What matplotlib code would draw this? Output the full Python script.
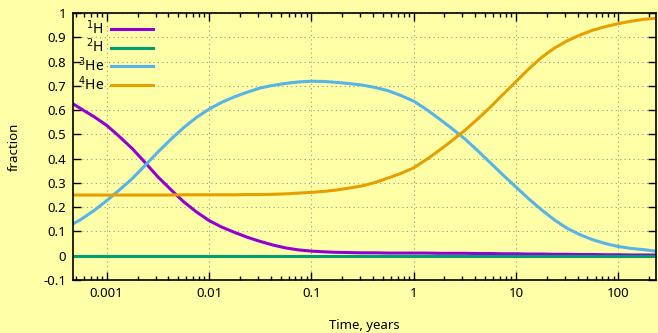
import matplotlib
matplotlib.use("Agg")
import matplotlib.pyplot as plt
from matplotlib.ticker import FixedLocator, LogLocator, NullFormatter

plt.rcParams['font.family'] = ['Noto Sans', 'DejaVu Sans']

# Data
time = [4.68e-4, 5.62e-4, 7.50e-4, 1e-3, 1.33e-3, 1.78e-3, 2.37e-3, 3.16e-3, 4.22e-3, 5.62e-3,
        7.50e-3, 0.01, 0.0133, 0.0178, 0.0237, 0.0316, 0.0422, 0.0562, 0.075, 0.1,
        0.133, 0.178, 0.237, 0.316, 0.422, 0.562, 0.75, 1, 1.33, 1.78,
        2.37, 3.16, 4.22, 5.62, 7.5, 10, 13.3, 17.8, 23.7, 31.6,
        42.2, 56.2, 75, 100, 133, 178, 234]
h1 = [0.626, 0.605, 0.573, 0.537, 0.491, 0.441, 0.384, 0.325, 0.273, 0.223,
      0.181, 0.145, 0.118, 0.096, 0.076, 0.059, 0.044, 0.032, 0.024, 0.019,
      0.016, 0.014, 0.013, 0.012, 0.012, 0.011, 0.011, 0.011, 0.011, 0.010,
      0.010, 0.010, 0.009, 0.009, 0.008, 0.008, 0.007, 0.007, 0.006, 0.006,
      0.005, 0.005, 0.004, 0.004, 0.003, 0.003, 0.003]
h2 = [0.0] * len(time)
he3 = [0.131, 0.150, 0.186, 0.227, 0.271, 0.318, 0.372, 0.427, 0.479, 0.527,
       0.569, 0.604, 0.632, 0.655, 0.674, 0.691, 0.702, 0.710, 0.716, 0.719,
       0.718, 0.714, 0.709, 0.703, 0.693, 0.680, 0.660, 0.637, 0.603, 0.564,
       0.524, 0.482, 0.433, 0.383, 0.332, 0.283, 0.235, 0.189, 0.148, 0.113,
       0.087, 0.066, 0.050, 0.038, 0.030, 0.025, 0.019]
he4 = [0.250, 0.250, 0.250, 0.250, 0.250, 0.250, 0.250, 0.250, 0.250, 0.251,
       0.251, 0.251, 0.251, 0.251, 0.252, 0.252, 0.253, 0.255, 0.258, 0.261,
       0.265, 0.271, 0.279, 0.288, 0.302, 0.320, 0.339, 0.362, 0.396, 0.434,
       0.474, 0.516, 0.563, 0.612, 0.665, 0.717, 0.769, 0.817, 0.855, 0.885,
       0.909, 0.929, 0.944, 0.956, 0.966, 0.974, 0.978]

labels = [r'$^{1}$H', r'$^{2}$H', r'$^{3}$He', r'$^{4}$He']
colors = ['#9400d3', '#009e73', '#56b4e9', '#e69f00']

xticks = [0.001, 0.01, 0.1, 1, 10, 100]
xticklabels = ['0.001', '0.01', '0.1', '1', '10', '100']
yticks = [-0.1, 0, 0.1, 0.2, 0.3, 0.4, 0.5, 0.6, 0.7, 0.8, 0.9, 1]
yticklabels = ['-0.1', '0', '0.1', '0.2', '0.3', '0.4', '0.5', '0.6', '0.7', '0.8', '0.9', '1']

bg = '#ffffa8'
fig = plt.figure(figsize=(6.58, 3.33), dpi=100, facecolor=bg)
ax = fig.add_axes([73/658, 1-280/333, (656-73)/658, (280-13)/333])
ax.set_facecolor(bg)

for ys, lab, c in zip([h1, h2, he3, he4], labels, colors):
    ax.plot(time, ys, color=c, lw=2.2, label=lab, solid_joinstyle='round')

ax.set_xscale('log')
ax.set_xlim(4.68e-4, 234)
ax.set_ylim(-0.1, 1)
ax.xaxis.set_major_locator(FixedLocator(xticks))
ax.set_xticklabels(xticklabels)
ax.xaxis.set_minor_locator(LogLocator(base=10, subs=range(2, 10), numticks=20))
ax.xaxis.set_minor_formatter(NullFormatter())
ax.set_yticks(yticks)
ax.set_yticklabels(yticklabels)

ax.tick_params(which='both', direction='in', top=True, right=True, labelsize=9.5,
               colors='black', width=1)
ax.tick_params(which='major', length=6, pad=5)
ax.tick_params(which='minor', length=3)
for s in ax.spines.values():
    s.set_linewidth(1.2)

ax.grid(True, which='major', color='#9a9a80', linestyle=(0, (1, 3)), lw=0.8)

ax.set_xlabel('Time, years', fontsize=9.5, labelpad=14)
ax.set_ylabel('fraction', fontsize=9.5, labelpad=16)

leg = ax.legend(loc='upper left', bbox_to_anchor=(0.0, 0.995), frameon=False,
                markerfirst=False, fontsize=10, handlelength=3.0, handletextpad=0.5,
                labelspacing=0.0, borderaxespad=0.0, borderpad=0.35)

fig.savefig('out.png', dpi=100, facecolor=bg)
